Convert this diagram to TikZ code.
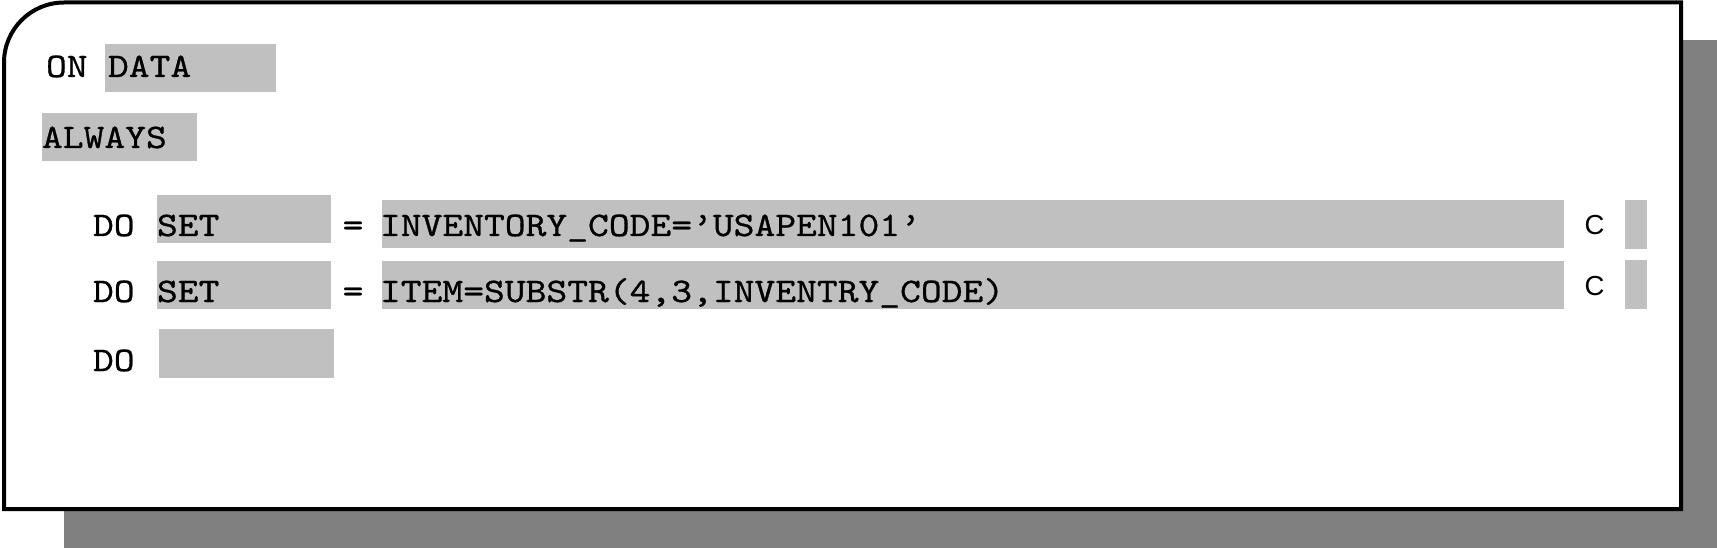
\documentclass[tikz,border=0pt]{standalone}
\usepackage{fontspec}
\setmonofont[Extension=.otf, FakeStretch=1.152, FakeBold=0.8]{lmmono10-regular}
\newfontfamily\arialfont{Liberation Sans}
\definecolor{boxgray}{HTML}{C0C0C0}
\definecolor{shadowgray}{HTML}{808080}
\begin{document}
\begin{tikzpicture}[x=1pt,y=-1pt,
  graybox/.style={fill=boxgray, draw=none, inner sep=0pt, outer sep=0pt, anchor=north west},
  code/.style={font=\ttfamily\fontsize{34.4pt}{40pt}\selectfont, inner sep=0pt, outer sep=0pt, anchor=base west, text=black},
  flag/.style={font=\arialfont\fontsize{27.5pt}{30pt}\selectfont, inner sep=0pt, outer sep=0pt, anchor=base west, text=black},
  frameline/.style={draw=black, line width=4pt, fill=white, line join=miter}]
\useasboundingbox (0,0) rectangle (1717,548);
% shadow
\fill[shadowgray] (64,40) rectangle (1717,548);
% frame with rounded top-left corner
\path[frameline] (4,509) -- (4,62.5) .. controls (4,29.4) and (30.9,2.5) .. (64,2.5) -- (1681,2.5) -- (1681,509) -- cycle;
% header
\node[graybox, minimum width=171pt, minimum height=48pt] (databox) at (105,44) {};
\node[code] (ontext) at (46,77) {ON};
\node[code] (datatext) at (108,77) {DATA};
\node[graybox, minimum width=155pt, minimum height=48pt] (alwaysbox) at (42,113) {};
\node[code] (alwaystext) at (42,148) {ALWAYS};
% row 1
\node[code] (do1) at (93,236) {DO};
\node[graybox, minimum width=174pt, minimum height=48pt] (setbox1) at (157,195) {};
\node[code] (set1) at (157,236) {SET};
\node[code] (eq1) at (342.6,236) {=};
\node[graybox, minimum width=1182pt, minimum height=48pt] (valbox1) at (382,200) {};
\node[code] (val1) at (380,236) {INVENTORY\_CODE=’USAPEN101’};
\node[flag] (c1) at (1584.5,235) {C};
\node[graybox, minimum width=22pt, minimum height=49pt] (cbox1) at (1625,200) {};
% row 2
\node[code] (do2) at (93,302) {DO};
\node[graybox, minimum width=174pt, minimum height=48pt] (setbox2) at (157,261) {};
\node[code] (set2) at (157,302) {SET};
\node[code] (eq2) at (342.6,302) {=};
\node[graybox, minimum width=1182pt, minimum height=48pt] (valbox2) at (382,261) {};
\node[code] (val2) at (380,302) {ITEM=SUBSTR(4,3,INVENTRY\_CODE)};
\node[flag] (c2) at (1584.5,295) {C};
\node[graybox, minimum width=22pt, minimum height=49pt] (cbox2) at (1625,260) {};
% row 3
\node[code] (do3) at (93,371) {DO};
\node[graybox, minimum width=175pt, minimum height=49pt] (dobox3) at (159,329) {};
\end{tikzpicture}
\end{document}
